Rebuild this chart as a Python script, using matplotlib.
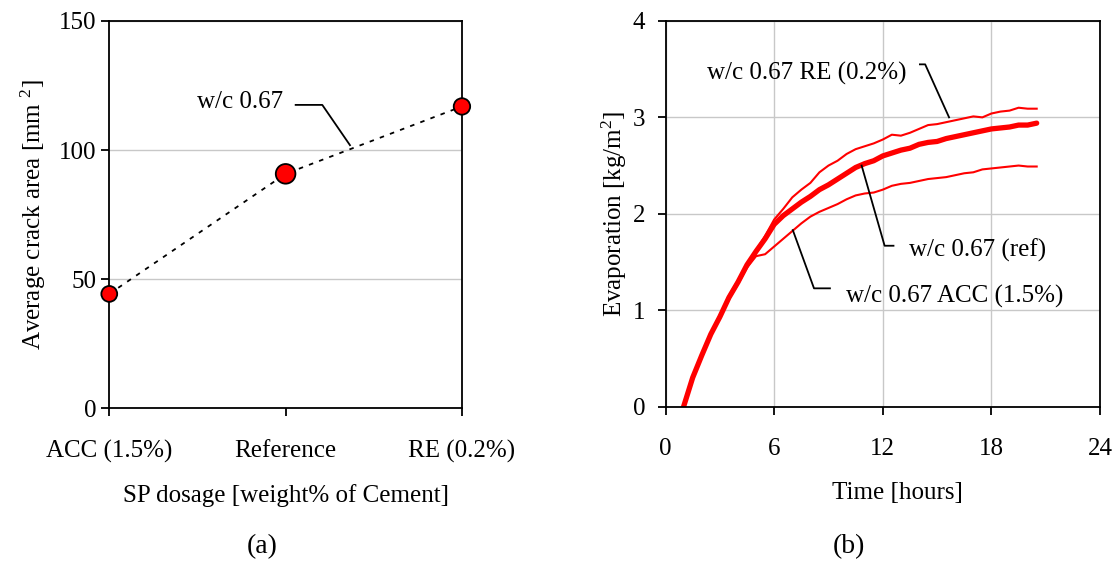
import numpy as np
import matplotlib
matplotlib.use('Agg')
import matplotlib.pyplot as plt

plt.rcParams['font.family'] = 'Liberation Serif'
plt.rcParams['mathtext.fontset'] = 'custom'
plt.rcParams['mathtext.rm'] = 'Liberation Serif'
plt.rcParams['mathtext.it'] = 'Liberation Serif:italic'
plt.rcParams['font.size'] = 18

# (a) average crack area per SP dosage
dosage = ['ACC (1.5%)', 'Reference', 'RE (0.2%)']
crack_area = [44.3, 90.8, 116.9]

# (b) evaporation over time
hours = [1.0, 1.5, 2.0, 2.5, 3.0, 3.5, 4.0, 4.5, 5.0, 5.5, 6.0, 6.5, 7.0, 7.5,
         8.0, 8.5, 9.0, 9.5, 10.0, 10.5, 11.0, 11.5, 12.0, 12.5, 13.0, 13.5,
         14.0, 14.5, 15.0, 15.5, 16.0, 16.5, 17.0, 17.5, 18.0, 18.5, 19.0,
         19.5, 20.0, 20.5]
evap_ref = [0.0, 0.30, 0.53, 0.75, 0.93, 1.13, 1.29, 1.47, 1.61, 1.74, 1.89,
            1.98, 2.05, 2.12, 2.18, 2.25, 2.30, 2.36, 2.42, 2.48, 2.52, 2.55,
            2.60, 2.63, 2.66, 2.68, 2.72, 2.74, 2.75, 2.78, 2.80, 2.82, 2.84,
            2.86, 2.88, 2.89, 2.90, 2.92, 2.92, 2.94]
evap_re = [0.0, 0.31, 0.54, 0.76, 0.95, 1.15, 1.31, 1.48, 1.62, 1.77, 1.94,
           2.05, 2.17, 2.25, 2.32, 2.43, 2.50, 2.55, 2.62, 2.67, 2.70, 2.73,
           2.77, 2.82, 2.81, 2.84, 2.88, 2.92, 2.93, 2.95, 2.97, 2.99, 3.01,
           3.00, 3.04, 3.06, 3.07, 3.10, 3.09, 3.09]
evap_acc = [0.0, 0.29, 0.52, 0.74, 0.92, 1.11, 1.27, 1.44, 1.56, 1.58, 1.66,
            1.74, 1.82, 1.90, 1.97, 2.02, 2.06, 2.10, 2.15, 2.19, 2.21, 2.22,
            2.25, 2.29, 2.31, 2.32, 2.34, 2.36, 2.37, 2.38, 2.40, 2.42, 2.43,
            2.46, 2.47, 2.48, 2.49, 2.50, 2.49, 2.49]

grid_color = '#c8c8c8'

fig = plt.figure(figsize=(11.15, 5.61), dpi=100)
ax1 = fig.add_axes([0.0980, 0.2722, 0.3163, 0.6904])
ax2 = fig.add_axes([0.5969, 0.2754, 0.3897, 0.6872])

# ---- (a)
pos = np.arange(len(dosage))
ax1.plot(pos, crack_area, color='black', ls=(0, (2.5, 3.5)), lw=1.3,
         zorder=2, clip_on=False)
marker_sizes = [130, 200, 140]
ax1.scatter(pos, crack_area, s=marker_sizes, c='red', edgecolors='black',
            linewidths=1.3, zorder=3, clip_on=False)
ax1.set_xlim(0, 2)
ax1.set_ylim(0, 150)
ax1.set_xticks(pos, dosage)
ax1.set_yticks([0, 50, 100, 150])
ax1.yaxis.grid(True, color=grid_color, lw=1)
ax1.set_axisbelow(True)
ax1.tick_params(axis='y', direction='out', length=6, width=1.3, pad=3)
ax1.tick_params(axis='x', direction='out', length=6, width=1.3, pad=17)
ax1.set_ylabel('Average crack area [mm $^{2}$]')
ax1.yaxis.set_label_coords(-0.173, 0.5)
ax1.set_xlabel('SP dosage [weight% of Cement]')
ax1.xaxis.set_label_coords(0.5, -0.195)
ax1.plot([1.057, 1.208, 1.365], [117.5, 117.5, 101.9], color='black', lw=1.3)
ax1.text(0.985, 118.6, 'w/c 0.67', ha='right', va='center')

# ---- (b)
ax2.plot(hours, evap_re, color='red', lw=1.5)
ax2.plot(hours, evap_acc, color='red', lw=1.5)
ax2.plot(hours, evap_ref, color='red', lw=3.8, solid_capstyle='round')
ax2.set_xlim(0, 24)
ax2.set_ylim(0, 4)
ax2.set_xticks([0, 6, 12, 18, 24])
ax2.set_yticks([0, 1, 2, 3, 4])
ax2.grid(True, color=grid_color, lw=1)
ax2.set_axisbelow(True)
ax2.tick_params(axis='y', direction='out', length=6, width=1.3, pad=8.5)
ax2.tick_params(axis='x', direction='out', length=6, width=1.3, pad=17)
ax2.set_ylabel('Evaporation [kg/m$^{2}$]')
ax2.yaxis.set_label_coords(-0.083, 0.5)
ax2.set_xlabel('Time [hours]')
ax2.xaxis.set_label_coords(0.533, -0.197)

ax2.plot([14.05, 14.34, 15.66], [3.55, 3.55, 3.0], color='black', lw=1.3)
ax2.text(13.3, 3.46, 'w/c 0.67 RE (0.2%)', ha='right', va='center')
ax2.plot([12.59, 12.10, 10.83], [1.668, 1.668, 2.50], color='black', lw=1.3)
ax2.text(13.43, 1.623, 'w/c 0.67 (ref)', ha='left', va='center')
ax2.plot([9.08, 8.20, 7.03], [1.226, 1.226, 1.83], color='black', lw=1.3)
ax2.text(9.96, 1.139, 'w/c 0.67 ACC (1.5%)', ha='left', va='center')

for ax in (ax1, ax2):
    for sp in ax.spines.values():
        sp.set_linewidth(1.3)

fig.text(0.235, 0.025, '(a)', ha='center', va='center', fontsize=20)
fig.text(0.761, 0.025, '(b)', ha='center', va='center', fontsize=20)

fig.savefig('out.png', dpi=100)
